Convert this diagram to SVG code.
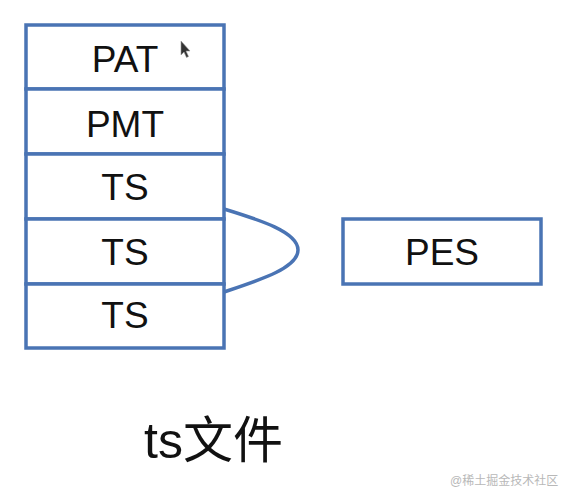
<svg xmlns="http://www.w3.org/2000/svg" width="571" height="502" viewBox="0 0 571 502">
<style>
.box{fill:#fff;stroke:#4a74b4;stroke-width:3.5}
.lbl{font-family:"Liberation Sans",Arial,sans-serif;font-size:37px;fill:#111;text-anchor:middle}
.conn{fill:none;stroke:#4a74b4;stroke-width:3.5}
</style>
<rect width="571" height="502" fill="#fff"/>
<g id="ts-stack">
<g id="pat"><rect class="box" x="26" y="25" width="198" height="64"/><text class="lbl" x="125" y="72">PAT</text></g>
<g id="pmt"><rect class="box" x="26" y="89" width="198" height="65"/><text class="lbl" x="125" y="137">PMT</text></g>
<g id="ts1"><rect class="box" x="26" y="154" width="198" height="65"/><text class="lbl" x="125" y="200">TS</text></g>
<g id="ts2"><rect class="box" x="26" y="219" width="198" height="65"/><text class="lbl" x="125" y="265">TS</text></g>
<g id="ts3"><rect class="box" x="26" y="284" width="198" height="64"/><text class="lbl" x="125" y="328">TS</text></g>
</g>
<g id="connectors">
<path class="conn" d="M224,209 C260,220 298,232 298,250 C298,268 260,280 224,292"/>
</g>
<g id="pes"><rect class="box" x="343" y="219" width="198" height="65"/><text class="lbl" x="442" y="265">PES</text></g>
<g id="cursor"><path d="M181,41 L181,55 L184,52 L186.5,57.5 L188.5,56.5 L186,51 L190,51 Z" fill="#333" stroke="#999" stroke-width="0.6"/></g>
<text x="144" y="458" font-family="'Liberation Sans','Noto Sans CJK SC',sans-serif" font-size="50" fill="#111">ts文件</text>
<text x="450" y="485" font-family="'Liberation Sans','Noto Sans CJK SC',sans-serif" font-size="12" fill="#b8b8b8">@稀土掘金技术社区</text>
</svg>
